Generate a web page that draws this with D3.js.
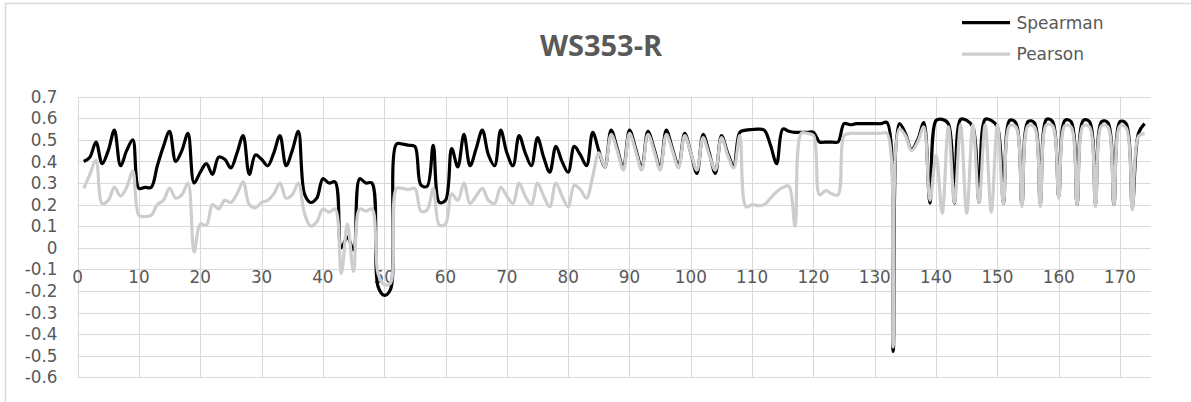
<!DOCTYPE html>
<html>
<head>
<meta charset="utf-8">
<script src="https://cdn.jsdelivr.net/npm/d3@7"></script>
<style>
  body { margin: 0; background: #fff; }
  text { font-family: "DejaVu Sans", "Open Sans", sans-serif; fill: #595959; }
</style>
</head>
<body>
<div id="chart"></div>
<script>
// values per index 1..174
var spearman = [
  0.40, 0.42, 0.49, 0.39, 0.45, 0.545, 0.38, 0.45, 0.50, 0.275,
  0.28, 0.28, 0.38, 0.47, 0.54, 0.40, 0.45, 0.53, 0.30, 0.35,
  0.39, 0.34, 0.42, 0.41, 0.37, 0.44, 0.52, 0.34, 0.43, 0.41,
  0.38, 0.44, 0.52, 0.38, 0.45, 0.54, 0.25, 0.21, 0.23, 0.32,
  0.30, 0.305, 0.0, 0.05, -0.01, 0.32, 0.30, 0.30, -0.18, -0.22,
  -0.195, 0.48, 0.48, 0.475, 0.47, 0.29, 0.285, 0.475, 0.21, 0.22,
  0.46, 0.375, 0.525, 0.38, 0.46, 0.545, 0.43, 0.38, 0.545, 0.44,
  0.38, 0.52, 0.44, 0.38, 0.51, 0.42, 0.35, 0.47, 0.40, 0.35,
  0.47, 0.43, 0.38, 0.535, 0.45, 0.375, 0.545, 0.46, 0.37, 0.545,
  0.46, 0.37, 0.54, 0.46, 0.37, 0.545, 0.46, 0.38, 0.53, 0.44,
  0.345, 0.525, 0.44, 0.345, 0.52, 0.44, 0.38, 0.535, 0.545, 0.548,
  0.55, 0.545, 0.475, 0.39, 0.55, 0.54, 0.535, 0.535, 0.535, 0.535,
  0.49, 0.49, 0.49, 0.49, 0.575, 0.57, 0.575, 0.575, 0.575, 0.575,
  0.575, 0.58, -0.48, 0.575, 0.53, 0.455, 0.50, 0.58, 0.207, 0.59,
  0.595, 0.575, 0.207, 0.595, 0.59, 0.56, 0.21, 0.595, 0.59, 0.56,
  0.205, 0.59, 0.58, 0.20, 0.585, 0.58, 0.20, 0.595, 0.585, 0.237,
  0.59, 0.585, 0.20, 0.59, 0.585, 0.20, 0.585, 0.58, 0.20, 0.585,
  0.575, 0.19, 0.53, 0.575
];
var pearson = [
  0.275, 0.34, 0.405, 0.205, 0.22, 0.28, 0.24, 0.28, 0.355, 0.15,
  0.145, 0.15, 0.20, 0.22, 0.275, 0.23, 0.245, 0.30, -0.02, 0.11,
  0.105, 0.20, 0.18, 0.22, 0.21, 0.25, 0.305, 0.20, 0.185, 0.21,
  0.22, 0.25, 0.30, 0.23, 0.245, 0.30, 0.16, 0.10, 0.12, 0.18,
  0.165, 0.18, -0.12, 0.11, -0.11, 0.18, 0.17, 0.18, -0.12, -0.17,
  -0.165, 0.275, 0.275, 0.27, 0.275, 0.17, 0.175, 0.275, 0.105, 0.11,
  0.25, 0.22, 0.30, 0.205, 0.24, 0.275, 0.22, 0.205, 0.28, 0.24,
  0.205, 0.30, 0.24, 0.20, 0.30, 0.24, 0.19, 0.30, 0.24, 0.19,
  0.29, 0.27, 0.23, 0.33, 0.44, 0.375, 0.525, 0.45, 0.36, 0.53,
  0.45, 0.36, 0.525, 0.45, 0.36, 0.525, 0.45, 0.37, 0.52, 0.44,
  0.36, 0.51, 0.43, 0.36, 0.51, 0.43, 0.37, 0.52, 0.19, 0.20,
  0.195, 0.20, 0.23, 0.26, 0.28, 0.285, 0.10, 0.53, 0.53, 0.52,
  0.245, 0.265, 0.25, 0.245, 0.52, 0.53, 0.53, 0.53, 0.53, 0.53,
  0.53, 0.53, -0.46, 0.55, 0.52, 0.45, 0.49, 0.56, 0.22, 0.43,
  0.16, 0.56, 0.21, 0.57, 0.16, 0.57, 0.21, 0.57, 0.165, 0.57,
  0.205, 0.565, 0.56, 0.19, 0.565, 0.56, 0.19, 0.57, 0.565, 0.23,
  0.565, 0.56, 0.20, 0.565, 0.56, 0.19, 0.565, 0.56, 0.20, 0.565,
  0.555, 0.175, 0.515, 0.53
];
var xTicks = d3.range(0, 171, 10);
var yTicks = d3.range(-6, 8).map(function (d) { return d / 10; });
var seriesNames = ["Spearman", "Pearson"];
var seriesColors = ["#000000", "#cdcdcd"];

var width = 1191,
    height = 402;

var x = d3.scaleLinear().domain([0, 175]).range([77.6, 1150.7]);
var y = d3.scaleLinear().domain([-0.6, 0.7]).range([377.3, 96.7]);

var svg = d3.select('#chart')
    .append('svg')
    .attr('width', width)
    .attr('height', height);

// chart frame
svg.append('rect')
    .attr('x', 5.5).attr('y', 3.5)
    .attr('width', 1300).attr('height', 500)
    .attr('fill', 'none')
    .attr('stroke', '#d9d9d9')
    .attr('stroke-width', 1.5);

// gridlines
svg.append('g').selectAll('line')
    .data(yTicks)
    .enter().append('line')
    .attr('x1', x(0)).attr('x2', x(175))
    .attr('y1', function (d) { return Math.round(y(d)) + 0.5; })
    .attr('y2', function (d) { return Math.round(y(d)) + 0.5; })
    .attr('stroke', '#d9d9d9');

svg.append('g').selectAll('line')
    .data(xTicks)
    .enter().append('line')
    .attr('x1', function (d) { return Math.round(x(d)) + 0.5; })
    .attr('x2', function (d) { return Math.round(x(d)) + 0.5; })
    .attr('y1', y(0.7)).attr('y2', y(-0.6))
    .attr('stroke', '#d9d9d9');

// y labels
svg.append('g').selectAll('text')
    .data(yTicks)
    .enter().append('text')
    .attr('x', 57.5)
    .attr('y', function (d) { return y(d); })
    .attr('dy', '.36em')
    .attr('text-anchor', 'end')
    .style('font-size', '16.8px')
    .text(function (d) { return d3.format('.1f')(d).replace('0.0', '0').replace('−', '-'); });

// x labels, next to the zero line
svg.append('g').selectAll('text')
    .data(xTicks)
    .enter().append('text')
    .attr('x', function (d) { return x(d); })
    .attr('y', y(0) + 29)
    .attr('dy', '.36em')
    .attr('text-anchor', 'middle')
    .style('font-size', '16.8px')
    .text(function (d) { return d; });

// lines
var line = d3.line()
    .x(function (d, i) { return x(i + 1); })
    .y(function (d) { return y(d); })
    .curve(d3.curveCatmullRom.alpha(0.5));

[spearman, pearson].forEach(function (s, i) {
    svg.append('path')
        .datum(s)
        .attr('d', line)
        .attr('fill', 'none')
        .attr('stroke', seriesColors[i])
        .attr('stroke-width', 3.2)
        .attr('stroke-linejoin', 'round');
});

// title
svg.append('text')
    .attr('x', 601)
    .attr('y', 55.5)
    .attr('text-anchor', 'middle')
    .style('font-family', '"Open Sans", sans-serif')
    .style('font-size', '29px')
    .style('font-weight', 700)
    .text('WS353-R');

// legend
var lg = svg.append('g').selectAll('g')
    .data(seriesNames)
    .enter().append('g')
    .attr('transform', function (d, i) {
        return 'translate(962,' + (22.7 + i * 31.5) + ')';
    });

lg.append('line')
    .attr('x1', 0).attr('x2', 48)
    .attr('stroke', function (d, i) { return seriesColors[i]; })
    .attr('stroke-width', 3.2);

lg.append('text')
    .attr('x', 54.5)
    .attr('dy', '.36em')
    .style('font-size', '17px')
    .text(function (d) { return d; });
</script>
</body>
</html>
